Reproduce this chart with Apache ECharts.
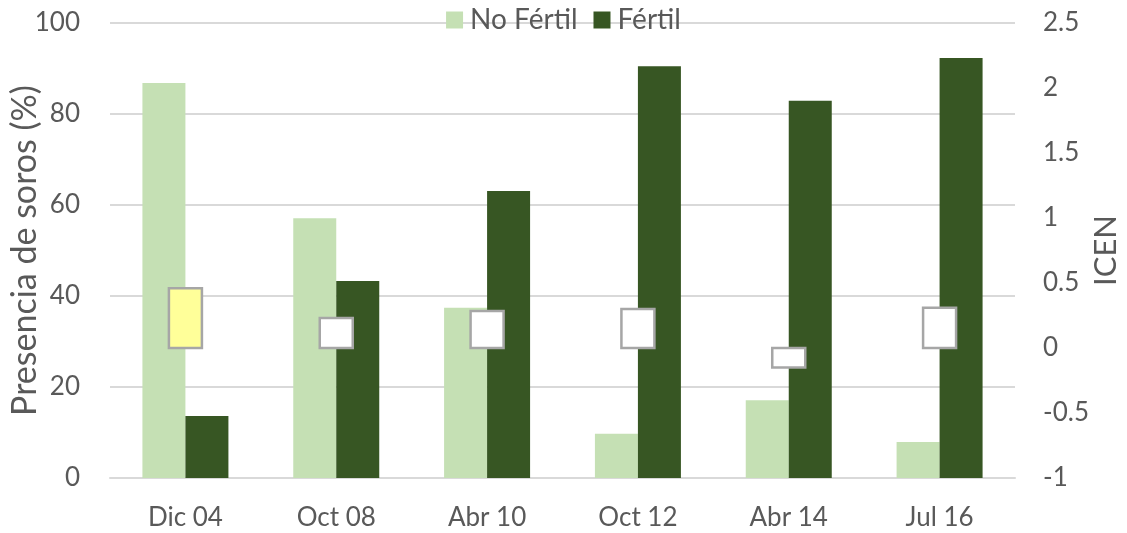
<!DOCTYPE html>
<html>
<head>
<meta charset="utf-8">
<script src="https://cdn.jsdelivr.net/npm/echarts@6/dist/echarts.min.js"></script>
<style>
  html, body { margin: 0; padding: 0; background: #fff; }
  #chart { width: 1127px; height: 533px; }
</style>
</head>
<body>
<div id="chart"></div>
<script>
// 类别与数据
const categories = ["Dic 04", "Oct 08", "Abr 10", "Oct 12", "Abr 14", "Jul 16"];
const noFertil = [86.8, 57.1, 37.4, 9.7, 17.1, 7.9];
const fertil = [13.6, 43.3, 63.1, 90.5, 82.9, 92.3];
const icen = [0.46, 0.23, 0.285, 0.3, -0.15, 0.31];
const icenFill = ["#ffff99", "#ffffff", "#ffffff", "#ffffff", "#ffffff", "#ffffff"];

const font = "Lato, 'Open Sans', sans-serif";
const textColor = "#595959";

let myChart = echarts.init(document.getElementById("chart"));

const option = {
  animation: false,
  legend: {
    top: 1,
    left: "center",
    itemWidth: 17,
    itemHeight: 17,
    itemGap: 16,
    icon: "rect",
    data: ["No Fértil", "Fértil"],
    textStyle: { color: textColor, fontSize: 28, fontFamily: font, padding: [0, 0, 0, 2] },
  },
  grid: { left: 110, right: 112, top: 23, bottom: 55, outerBoundsMode: "none", containLabel: false },
  xAxis: {
    type: "category",
    data: categories,
    axisTick: { show: false },
    axisLine: { show: true, lineStyle: { color: "#d9d9d9", width: 2 } },
    axisLabel: { color: textColor, fontSize: 26, fontFamily: font, margin: 27 },
  },
  yAxis: [
    {
      type: "value",
      min: 0,
      max: 100,
      interval: 20,
      name: "Presencia de soros (%)",
      nameLocation: "middle",
      nameGap: 68,
      nameMoveOverlap: false,
      nameTextStyle: { color: textColor, fontSize: 34, fontFamily: font },
      axisLabel: { color: textColor, fontSize: 26, fontFamily: font, margin: 30 },
      axisLine: { show: false },
      axisTick: { show: false },
      splitLine: { lineStyle: { color: "#d9d9d9", width: 2 } },
    },
    {
      type: "value",
      min: -1,
      max: 2.5,
      interval: 0.5,
      name: "ICEN",
      nameLocation: "middle",
      nameGap: 75,
      nameRotate: 90,
      nameMoveOverlap: false,
      nameTextStyle: { color: textColor, fontSize: 31, fontFamily: font },
      axisLabel: { color: textColor, fontSize: 26, fontFamily: font, margin: 28 },
      axisLine: { show: false },
      axisTick: { show: false },
      splitLine: { show: false },
    },
  ],
  series: [
    {
      name: "No Fértil",
      type: "bar",
      data: noFertil,
      barWidth: 43,
      barGap: "0%",
      itemStyle: { color: "#c5e0b4" },
    },
    {
      name: "Fértil",
      type: "bar",
      data: fertil,
      barWidth: 43,
      itemStyle: { color: "#375623" },
    },
    {
      name: "ICEN",
      type: "custom",
      yAxisIndex: 1,
      data: icen.map((v, i) => [i, v]),
      renderItem: (params, api) => {
        const i = api.value(0);
        const p0 = api.coord([i, 0]);
        const p1 = api.coord([i, api.value(1)]);
        const w = 33;
        return {
          type: "rect",
          shape: {
            x: p0[0] - w / 2,
            y: Math.min(p0[1], p1[1]),
            width: w,
            height: Math.abs(p1[1] - p0[1]),
          },
          style: { fill: icenFill[i], stroke: "#a6a6a6", lineWidth: 2.5 },
        };
      },
      z: 5,
    },
  ],
};

myChart.setOption(option, true);
</script>
</body>
</html>
